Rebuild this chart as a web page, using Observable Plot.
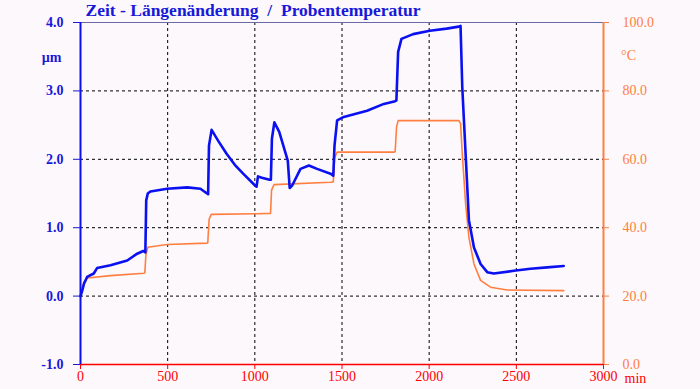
<!DOCTYPE html>
<html>
<head>
<meta charset="utf-8">
<script src="https://cdn.jsdelivr.net/npm/d3@7"></script>
<script src="https://cdn.jsdelivr.net/npm/@observablehq/plot@0.6"></script>
<style>
  html, body { margin: 0; padding: 0; background: #fcf8fc; }
  svg { display: block; }
</style>
</head>
<body>
<div id="chart"></div>
<script>
// Time in minutes
const lengthTime = [0, 10, 20, 38, 76, 95, 172, 268, 325, 360, 372, 377, 386, 401, 497, 612, 688, 726, 732, 737, 752, 790, 838, 885, 933, 1000, 1010, 1018, 1040, 1085, 1092, 1098, 1112, 1140, 1189, 1200, 1215, 1262, 1310, 1357, 1434, 1450, 1457, 1472, 1510, 1644, 1740, 1805, 1812, 1822, 1841, 1908, 2004, 2100, 2170, 2180, 2190, 2209, 2228, 2257, 2295, 2333, 2371, 2486, 2581, 2677, 2772];
// Length change in µm
const lengthValue = [0.0, 0.08, 0.18, 0.28, 0.33, 0.41, 0.45, 0.52, 0.62, 0.66, 0.64, 1.40, 1.50, 1.53, 1.57, 1.59, 1.57, 1.50, 1.49, 2.20, 2.43, 2.27, 2.08, 1.92, 1.79, 1.62, 1.60, 1.75, 1.73, 1.70, 1.70, 2.30, 2.54, 2.40, 1.98, 1.58, 1.62, 1.86, 1.91, 1.86, 1.79, 1.76, 2.20, 2.57, 2.62, 2.71, 2.81, 2.85, 2.86, 3.57, 3.76, 3.83, 3.88, 3.91, 3.94, 3.95, 3.05, 2.08, 1.11, 0.71, 0.47, 0.35, 0.33, 0.37, 0.40, 0.42, 0.44];
// Sample temperature in °C
const tempTime = [0, 19, 38, 172, 363, 369, 375, 386, 497, 726, 730, 738, 750, 1014, 1090, 1096, 1110, 1434, 1450, 1458, 1472, 1797, 1805, 1813, 1822, 2170, 2180, 2190, 2209, 2228, 2257, 2295, 2352, 2447, 2772];
const tempValue = [19.7, 24.1, 25.3, 26.0, 26.7, 26.8, 32.0, 34.3, 35.1, 35.5, 35.6, 42.5, 43.9, 44.1, 44.2, 51.0, 52.6, 53.3, 53.4, 60.5, 62.1, 62.1, 62.2, 69.5, 71.3, 71.3, 70.5, 61.6, 47.0, 37.2, 29.4, 24.6, 22.6, 21.8, 21.6];

const xTicks = [0, 500, 1000, 1500, 2000, 2500, 3000];
const yTicks = [-1, 0, 1, 2, 3, 4];          // µm
const tempTicks = [0, 20, 40, 60, 80, 100];  // °C
const title = "Zeit - Längenänderung  /  Probentemperatur";

const lengthData = lengthTime.map((t, i) => ({t, v: lengthValue[i]}));
const tempData = tempTime.map((t, i) => ({t, c: tempValue[i]}));
const tempToY = c => c / 20 - 1;

const BLUE = "#0a10f0";
const TXTBLUE = "#1818d8";
const ORANGE = "#ff7f40";
const RED = "#ff0000";
const FONT = "Liberation Serif";

const chart = Plot.plot({
  width: 700,
  height: 389,
  marginLeft: 80,
  marginRight: 97,
  marginTop: 22,
  marginBottom: 25,
  style: {background: "#fcf8fc", fontFamily: FONT, fontSize: "14px", overflow: "visible"},
  x: {domain: [0, 3000]},
  y: {domain: [-1, 4]},
  marks: [
    Plot.gridX(xTicks.slice(1, -1), {stroke: "#000", strokeOpacity: 1, strokeDasharray: "3,3", strokeWidth: 1}),
    Plot.gridY(yTicks.slice(1, -1), {stroke: "#000", strokeOpacity: 1, strokeDasharray: "3,3", strokeWidth: 1}),
    Plot.ruleY([4], {stroke: "#6a6aa8", strokeWidth: 1.2}),
    Plot.line(tempData, {x: "t", y: d => tempToY(d.c), stroke: ORANGE, strokeWidth: 1.6}),
    Plot.line(lengthData, {x: "t", y: "v", stroke: BLUE, strokeWidth: 2.6, strokeLinejoin: "round"}),
    Plot.ruleY([-1], {stroke: RED, strokeWidth: 1.6}),
    Plot.ruleX([0], {stroke: BLUE, strokeWidth: 2}),
    Plot.ruleX([3000], {stroke: ORANGE, strokeWidth: 2}),
    Plot.axisY(yTicks, {anchor: "left", color: TXTBLUE, tickSize: 7, tickPadding: 10,
      tickFormat: d => d.toFixed(1), label: null, fontWeight: "bold", fontSize: 14, fontFamily: FONT}),
    Plot.axisY(tempTicks.map(tempToY), {anchor: "right", color: ORANGE, tickSize: 5, tickPadding: 14,
      tickFormat: d => ((d + 1) * 20).toFixed(1), label: null, fontSize: 14, fontFamily: FONT}),
    Plot.axisX(xTicks, {anchor: "bottom", color: RED, tickSize: 5, tickPadding: 2,
      tickFormat: d => String(d), label: null, fontSize: 14, fontFamily: FONT}),
    Plot.text([title], {frameAnchor: "top-left", text: d => d, dx: 5, dy: -12, textAnchor: "start",
      lineAnchor: "middle", fill: TXTBLUE, fontWeight: "bold", fontSize: 17.5, fontFamily: FONT}),
    Plot.text(["µm"], {frameAnchor: "top-left", text: d => d, dx: -29, dy: 35, textAnchor: "middle",
      lineAnchor: "middle", fill: TXTBLUE, fontWeight: "bold", fontSize: 14, fontFamily: FONT}),
    Plot.text(["°C"], {frameAnchor: "top-right", text: d => d, dx: 25, dy: 33, textAnchor: "middle",
      lineAnchor: "middle", fill: ORANGE, fontSize: 14, fontFamily: FONT}),
    Plot.text(["min"], {frameAnchor: "bottom-right", text: d => d, dx: 21, dy: 14, textAnchor: "start",
      lineAnchor: "middle", fill: RED, fontSize: 14, fontFamily: FONT})
  ]
});
document.getElementById("chart").appendChild(chart);
</script>
</body>
</html>
